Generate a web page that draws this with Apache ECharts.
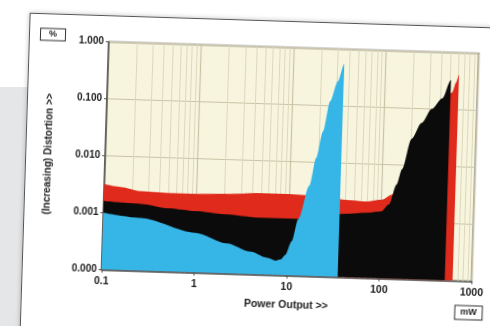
<!DOCTYPE html>
<html>
<head>
<meta charset="utf-8">
<script src="https://cdn.jsdelivr.net/npm/echarts@6/dist/echarts.min.js"></script>
<style>
  html, body { margin: 0; padding: 0; background: #fff; }
  .page { position: relative; width: 490px; height: 326px; overflow: hidden; }
  .shade {
    position: absolute; left: 0; top: 87px; width: 320px; height: 240px;
    background: linear-gradient(to right, #e5e6e8 55%, rgba(255,255,255,0));
  }
  .tilt {
    position: absolute; left: 0; top: 0; width: 490px; height: 326px;
    transform: rotate(1.8deg); transform-origin: 256px 165px;
  }
  .card {
    position: absolute; left: 25px; top: 20px; width: 490px; height: 330px;
    background: #fff; border: 1px solid #555;
    box-shadow: 0 0 5px rgba(0,0,0,0.25);
  }
  #chart { position: absolute; left: 0; top: 0; width: 490px; height: 326px; }
</style>
</head>
<body>
<div class="page">
  <div class="shade"></div>
  <div class="tilt">
    <div class="card"></div>
    <div id="chart"></div>
  </div>
</div>
<script>
// distortion curves, [power mW, distortion %]
const redCurve = [
  [0.1, 0.0032], [0.15, 0.0029], [0.25, 0.0025], [0.5, 0.0024], [1, 0.0024],
  [2, 0.0025], [5, 0.0027], [10, 0.0027], [20, 0.0026], [40, 0.0023],
  [70, 0.0022], [100, 0.0024], [130, 0.003], [150, 0.0045], [170, 0.008],
  [210, 0.03], [270, 0.06], [340, 0.1], [430, 0.14], [530, 0.2],
  [580, 0.3], [620, 0.41], [622, 0.0001]
];
const blackCurve = [
  [0.1, 0.0016], [0.25, 0.0015], [0.5, 0.0013], [1, 0.0012], [2, 0.0011],
  [5, 0.001], [10, 0.001], [20, 0.001], [40, 0.0013], [70, 0.0014],
  [100, 0.0015], [120, 0.002], [143, 0.0045], [162, 0.0085], [200, 0.029],
  [254, 0.056], [323, 0.1], [417, 0.156], [510, 0.33], [511, 0.0001]
];
const blueCurve = [
  [0.1, 0.001], [0.25, 0.00085], [1, 0.0005], [2.2, 0.00034], [4, 0.00025],
  [6, 0.0002], [7.5, 0.00018], [8.5, 0.00019], [9.5, 0.00023], [11, 0.0004],
  [12.8, 0.001], [16.4, 0.0039], [19, 0.012], [22, 0.035], [25.7, 0.12],
  [30.6, 0.27], [35.5, 0.55], [35.8, 0.0001]
];

const yTicks = [0.0001, 0.001, 0.01, 0.1, 1];
const yTickLabels = ['0.000', '0.001', '0.010', '0.100', '1.000'];
const xTicks = [0.1, 1, 10, 100, 1000];
const xTickLabels = ['0.1', '1', '10', '100', '1000'];
const minorX = [0.2, 0.3, 0.4, 0.5, 0.6, 0.7, 0.8, 0.9,
  2, 3, 4, 5, 6, 7, 8, 9, 20, 30, 40, 50, 60, 70, 80, 90,
  200, 300, 400, 500, 600, 700, 800, 900];

const pick = (ticks, labels) => v => {
  const i = ticks.findIndex(t => Math.abs(Math.log10(t) - Math.log10(v)) < 0.01);
  return i < 0 ? '' : labels[i];
};

const font = '"Liberation Sans", Arial, sans-serif';
const labelStyle = { color: '#222', fontWeight: 'bold', fontSize: 10, fontFamily: font };

const area = (name, data, color) => ({
  name, type: 'line', data,
  showSymbol: false, silent: true,
  smooth: 0.3, smoothMonotone: 'x',
  lineStyle: { width: 0 },
  areaStyle: { color, opacity: 1, origin: 'start' },
  z: 10
});

const chart = echarts.init(document.getElementById('chart'));
chart.setOption({
  animation: false,
  grid: {
    left: 105, top: 46.5, width: 371.5, height: 228,
    show: true, backgroundColor: '#f8f5df', borderColor: '#555', borderWidth: 1.5
  },
  xAxis: {
    type: 'log', logBase: 10, min: 0.1, max: 1000,
    axisLine: { lineStyle: { color: '#555', width: 1.5 } },
    axisTick: { show: true, length: 3, lineStyle: { color: '#555' } },
    axisLabel: { ...labelStyle, fontSize: 10.5, margin: 6, formatter: pick(xTicks, xTickLabels) },
    splitLine: { show: true, lineStyle: { color: '#c9c3a6', width: 1.2 } },
    name: 'Power Output >>', nameLocation: 'middle', nameGap: 24,
    nameTextStyle: { ...labelStyle, fontSize: 10.5 }
  },
  yAxis: {
    type: 'log', logBase: 10, min: 0.0001, max: 1,
    axisLine: { lineStyle: { color: '#555', width: 1.5 } },
    axisTick: { show: true, length: 3, lineStyle: { color: '#555' } },
    axisLabel: { ...labelStyle, margin: 5, formatter: pick(yTicks, yTickLabels) },
    splitLine: { show: true, lineStyle: { color: '#c9c3a6', width: 1.2 } },
    name: '(Increasing) Distortion >>', nameLocation: 'middle', nameGap: 52,
    nameRotate: 90, nameTextStyle: labelStyle
  },
  series: [
    {
      type: 'line', data: [], silent: true, z: 1,
      markLine: {
        silent: true, symbol: 'none', label: { show: false }, z: 1,
        lineStyle: { color: '#ddd7bd', width: 1, type: 'solid' },
        data: minorX.map(v => ({ xAxis: v }))
      }
    },
    area('red', redCurve, '#e02a1c'),
    area('black', blackCurve, '#0b0b0b'),
    area('blue', blueCurve, '#36b6e6')
  ],
  graphic: [
    {
      type: 'text', x: 49, y: 41,
      style: {
        text: '%', font: 'bold 9px ' + font, fill: '#222',
        align: 'center', verticalAlign: 'middle',
        borderColor: '#333', borderWidth: 1, padding: [1, 8], backgroundColor: '#fff'
      }
    },
    {
      type: 'text', x: 473, y: 306,
      style: {
        text: 'mW', font: 'bold 9px ' + font, fill: '#222',
        align: 'center', verticalAlign: 'middle',
        borderColor: '#333', borderWidth: 1, padding: [2, 5], backgroundColor: '#fff'
      }
    }
  ]
});
</script>
</body>
</html>
